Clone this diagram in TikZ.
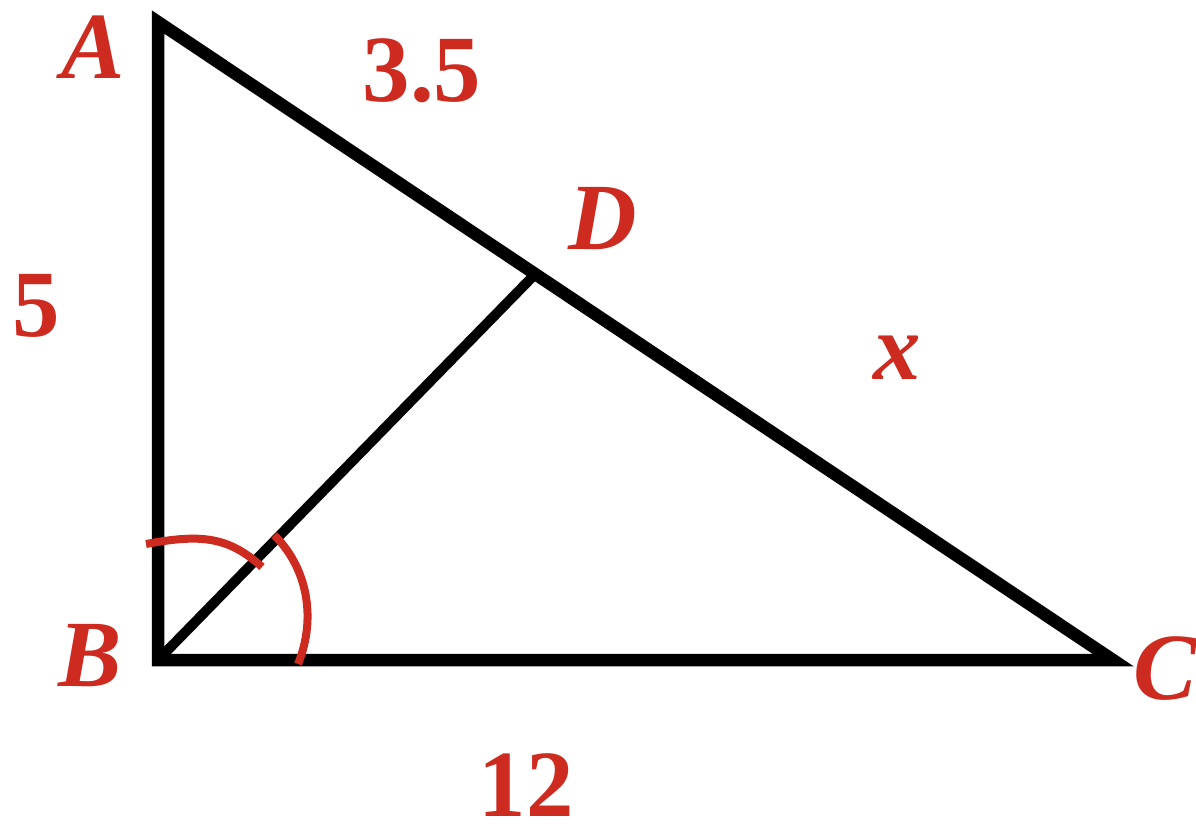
\documentclass[tikz,border=0pt]{standalone}
\usetikzlibrary{calc}
\usepackage{fontspec}
\setmainfont{Liberation Serif}
\definecolor{lblred}{RGB}{205,42,32}
\begin{document}
\begin{tikzpicture}[x=0.02cm,y=-0.02cm,
  side/.style={line width=0.25cm,line join=miter},
  cev/.style={line width=0.2cm},
  anglemark/.style={lblred,line width=0.16cm},
  lbl/.style={lblred,inner sep=0pt,text depth=0pt,font=\fontsize{54}{54}\selectfont\bfseries\itshape},
  num/.style={lblred,inner sep=0pt,text depth=0pt,font=\fontsize{54}{54}\selectfont\bfseries}]
\useasboundingbox (0,0) rectangle (1196,829);
\coordinate (A) at (158,22);
\coordinate (B) at (158,660);
\coordinate (C) at (1113,660);
\coordinate (D) at ($(A)!0.395!(C)$);
\draw[side] (A) -- (B) -- (C) -- cycle;
\draw[cev] (B) -- (D);
\coordinate (m1s) at (146,544);
\coordinate (m1e) at (262,567);
\draw[anglemark] (m1s) .. controls (200,534) and (228,536) .. (m1e);
\coordinate (m2s) at (274,535);
\coordinate (m2e) at (298,664);
\draw[anglemark] (m2s) .. controls (305,565) and (318,615) .. (m2e);
\node[lbl] (lA) at (93,47) {A};
\node[lbl] (lB) at (90,655) {B};
\node[lbl] (lC) at (1165,668) {C};
\node[lbl] (lD) at (603,218) {D};
\node[num] (l35) at (422,70) {3.5};
\node[num] (l5) at (36,305) {5};
\node[lbl] (lx) at (897,358) {x};
\node[num] (l12) at (526,785) {12};
\end{tikzpicture}
\end{document}
